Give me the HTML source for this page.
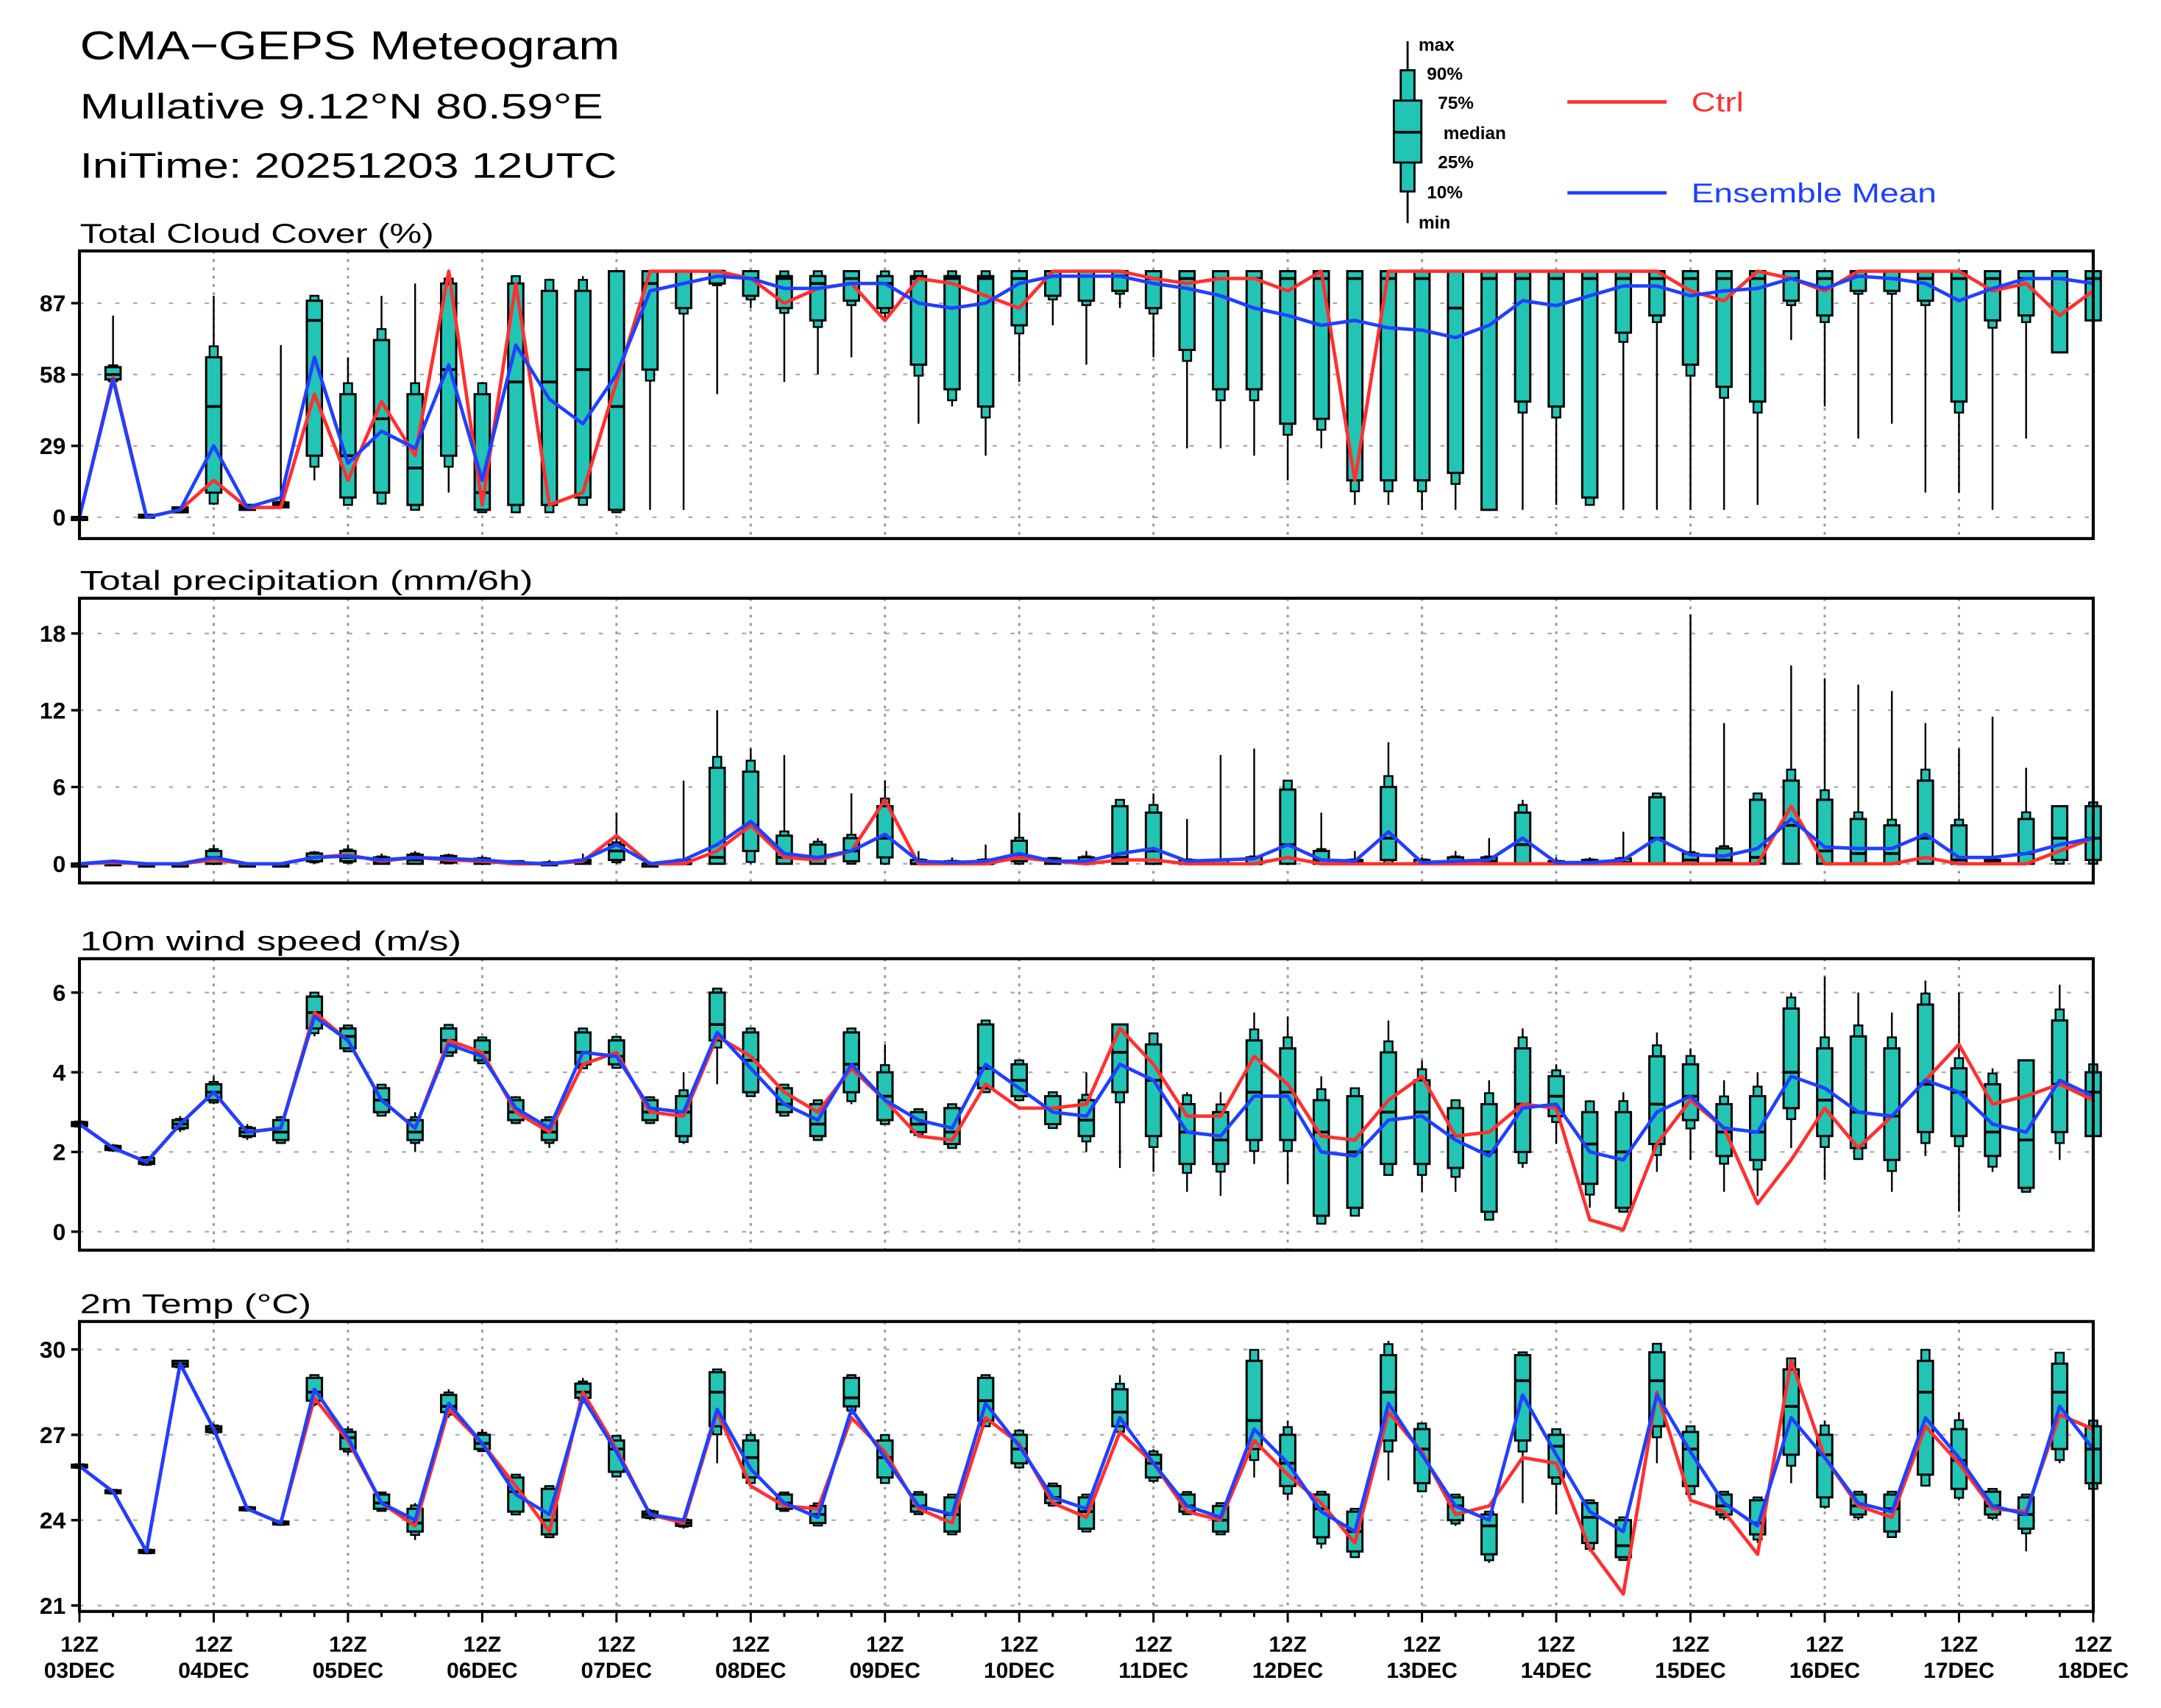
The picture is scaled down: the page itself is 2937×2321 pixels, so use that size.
<!DOCTYPE html>
<html><head><meta charset="utf-8"><style>
html,body{margin:0;padding:0;background:#fff}
svg{display:block}
text{font-family:"Liberation Sans","DejaVu Sans",sans-serif}
</style></head><body>
<svg id="chart" xmlns="http://www.w3.org/2000/svg" width="2937" height="2321" viewBox="0 0 1569 1240" preserveAspectRatio="none">
<rect x="0" y="0" width="1569" height="1240" fill="#fff"/>
<text x="58" y="43" font-size="29" fill="#000" textLength="392" lengthAdjust="spacingAndGlyphs">CMA−GEPS Meteogram</text>
<text x="58" y="86" font-size="26" fill="#000" textLength="380" lengthAdjust="spacingAndGlyphs">Mullative 9.12°N 80.59°E</text>
<text x="58" y="129" font-size="26" fill="#000" textLength="390" lengthAdjust="spacingAndGlyphs">IniTime: 20251203 12UTC</text>
<g>
<line x1="1022" y1="30" x2="1022" y2="162" stroke="#000" stroke-width="1.5"/>
<rect x="1017" y="51" width="10" height="88" fill="#22c4b4" stroke="#000" stroke-width="1.5"/>
<rect x="1012" y="73" width="20" height="45" fill="#22c4b4" stroke="#000" stroke-width="1.5"/>
<line x1="1012" y1="96" x2="1032" y2="96" stroke="#000" stroke-width="2"/>
<g font-size="13" font-weight="bold">
<text x="1030" y="37">max</text><text x="1036" y="58">90%</text><text x="1044" y="79">75%</text>
<text x="1048" y="101">median</text><text x="1044" y="122">25%</text><text x="1036" y="144">10%</text><text x="1030" y="166">min</text></g>
</g>
<g><line x1="1138" y1="74" x2="1210" y2="74" stroke="#ff3030" stroke-width="2.5"/><text x="1228" y="81" font-size="20" fill="#ff3030" textLength="38" lengthAdjust="spacingAndGlyphs">Ctrl</text></g>
<g><line x1="1138" y1="140" x2="1210" y2="140" stroke="#2040ff" stroke-width="2.5"/><text x="1228" y="147" font-size="20" fill="#2040ff" textLength="178" lengthAdjust="spacingAndGlyphs">Ensemble Mean</text></g>
</svg>
<script>
// ---- data (61 steps, 6-hourly from 12Z 03DEC) ----
const dayLabels=["03DEC","04DEC","05DEC","06DEC","07DEC","08DEC","09DEC","10DEC","11DEC","12DEC","13DEC","14DEC","15DEC","16DEC","17DEC","18DEC"];
const tccMin=[0,55,0,2,5,3,4,15,5,5,3,10,2,2,2,5,2,3,3,50,85,55,58,65,80,38,45,25,55,78,62,85,65,28,28,25,15,28,5,5,3,3,3,3,5,5,3,3,3,3,5,72,45,32,38,10,10,3,32,67,80];
const tccQ1=[0,56,0,2,10,3,4,25,8,10,5,25,3,5,5,8,3,60,85,95,90,85,80,88,85,62,52,45,78,90,88,92,85,68,52,52,38,40,15,15,15,18,3,47,45,8,75,82,62,53,47,88,82,92,92,88,47,80,82,67,80];
const tccMed=[0,58,0,3,45,4,5,80,25,40,20,60,10,55,55,60,45,95,100,100,97,97,95,97,95,97,97,97,97,98,98,98,97,97,97,97,97,97,97,97,97,85,97,97,97,97,97,97,97,97,97,97,97,98,97,97,97,97,97,97,97];
const tccQ3=[0,61,1,4,65,5,6,88,50,72,50,95,50,95,92,92,100,100,100,100,100,98,98,100,98,98,98,98,100,100,100,100,100,100,100,100,100,100,100,100,100,100,100,100,100,100,100,100,100,100,100,100,100,100,100,100,100,100,100,100,100];
const tccMax=[0,82,1,4,90,5,70,90,65,90,95,97,55,98,97,98,100,100,100,100,100,100,100,100,100,100,100,100,100,100,100,100,100,100,100,100,100,100,100,100,100,100,100,100,100,100,100,100,100,100,100,100,100,100,100,100,100,100,100,100,100];
const tccCtrl=[0,57,0,3,15,4,4,50,15,47,25,100,5,95,5,10,55,100,100,100,97,87,93,95,80,97,95,90,85,100,100,100,97,95,97,97,92,100,15,100,100,100,100,100,100,100,100,100,92,88,100,97,92,100,100,100,100,92,95,82,92];
const tccMean=[0,56,0,3,29,4,8,65,22,35,28,62,15,70,48,38,58,92,95,98,97,93,93,95,95,87,85,87,95,98,98,98,95,93,90,85,82,78,80,77,76,73,78,88,86,90,94,94,90,92,93,97,93,98,97,95,88,93,97,97,95];

const prMin=new Array(61).fill(0);
const prQ1=[0,0,0,0,0,0,0,0.2,0.2,0,0,0.1,0,0,0,0,0.3,0,0,0,1,0,0,0.2,0.5,0,0,0,0.2,0,0,0,0,0,0,0,0,0,0,0.3,0,0,0,0,0,0,0,0,0,0,0,0,0,0,0,0,0,0,0,0.3,0.3];
const prMed=[0,0,0,0,0.5,0,0,0.5,0.5,0.2,0.3,0.3,0.2,0.1,0,0.1,1,0,0,0.5,3,0.5,0.5,1,2,0,0,0,0.7,0.2,0.1,0.5,1,0,0,0,1.5,0.3,0.1,2,0,0.1,0.2,1.5,0,0,0.1,2,0.3,0.3,0.5,3,1,0.8,0.8,2,0.3,0.2,0.8,2,2];
const prQ3=[0,0.1,0,0,1,0,0,0.8,1,0.5,0.7,0.6,0.4,0.2,0.1,0.3,1.5,0,0.3,7.5,7.2,2.2,1.5,2,4.5,0.3,0.2,0.3,1.8,0.4,0.5,4.5,4,0.3,0.3,0.5,5.8,1,0.3,6,0.3,0.5,0.5,4,0.2,0.3,0.4,5.2,0.8,1.2,5,6.5,5,3.5,3,6.5,3,0.3,3.5,4.5,4.5];
const prMax=[0,0.2,0,0,1.5,0,0,1,1.5,0.8,1,0.8,0.6,0.2,0.3,0.8,4,0.2,6.5,12,9,8.5,2,5.5,6.5,1,0.5,1.5,4,0.5,1,5,5.5,3.5,8.5,9,6.5,4,1,9.5,0.5,1,2,5,0.5,0.5,2.5,5.5,19.5,11,5.5,15.5,14.5,14,13.5,11,9,11.5,7.5,4.5,4.8];
const prCtrl=[0,0.1,0,0,0.3,0,0,0.5,0.7,0.2,0.5,0.3,0.2,0,0,0.2,2.2,0,0,1,3,0.5,0.3,1,5,0,0,0,0.5,0.2,0,0.3,0.3,0,0,0,0.5,0,0,0,0,0,0,0,0,0,0,0,0,0,0,4.5,0,0,0,0.5,0,0,0,1,2];
const prMean=[0,0.2,0,0,0.5,0,0,0.5,0.6,0.3,0.5,0.4,0.3,0.1,0,0.3,1.5,0,0.3,1.5,3.3,0.8,0.5,1,2.3,0.2,0.1,0.2,0.8,0.2,0.2,0.8,1.2,0.2,0.3,0.4,1.5,0.3,0.2,2.5,0.1,0.2,0.3,2,0.1,0.1,0.3,2,0.7,0.6,1.2,3.5,1.3,1.2,1.2,2.3,0.5,0.5,0.8,1.5,2];

const wsMin=[2.6,2,1.65,2.5,3.2,2.3,2.2,4.9,4.5,2.9,2,4.4,4.2,2.7,2.1,4.1,4.1,2.7,2.2,3.7,3.4,2.9,2.3,3.2,2.7,2.4,2.1,3.5,3.3,2.6,2,1.6,1.5,1,0.9,1.7,1.2,0.2,0.4,1.4,1,1,0.3,1.6,2.2,0.6,0.5,1.5,1.8,1,0.9,2.1,1.3,1.8,1,1.9,0.5,1.5,1,1.8,2.4];
const wsQ1=[2.65,2.05,1.7,2.6,3.3,2.4,2.3,5.1,4.6,3,2.3,4.5,4.3,2.8,2.3,4.2,4.2,2.8,2.4,4.8,3.5,3,2.4,3.5,2.8,2.5,2.2,3.6,3.4,2.7,2.4,3.5,2.4,1.7,1.7,2.3,2.3,0.4,0.6,1.7,1.7,1.6,0.5,2,2.9,1.2,0.6,2.2,2.8,1.9,1.8,3.1,2.4,2.1,1.8,2.5,2.4,1.9,1.1,2.5,2.4];
const wsMed=[2.7,2.1,1.75,2.7,3.5,2.5,2.5,5.5,4.9,3.3,2.5,4.8,4.5,3,2.5,4.5,4.4,3,3,5.2,4.3,3.2,2.7,4.2,3.4,2.7,2.5,4.1,3.8,3.1,2.8,4.5,3.8,2.5,2.3,3.5,3.5,2.5,2,3,3,2.4,2,3.2,3.4,2.2,2,3.2,3.4,2.5,2.5,4,3.3,3,2.9,3.7,3.5,2.5,2.3,3.7,3.5];
const wsQ3=[2.75,2.15,1.85,2.8,3.7,2.6,2.8,5.9,5.1,3.6,2.8,5.1,4.8,3.3,2.8,5,4.8,3.3,3.4,6,5,3.6,3.2,5,4,3,3.1,5.2,4.2,3.4,3.3,5.2,4.7,3.2,3,4.8,4.6,3.3,3.4,4.5,3.8,3.1,3.2,4.6,3.9,3,3,4.4,4.2,3.2,3.4,5.6,4.6,4.9,4.6,5.7,4.1,3.7,4.3,5.3,4];
const wsMax=[2.8,2.2,1.9,2.9,3.9,2.7,2.9,6,5.2,3.7,3,5.2,4.9,3.4,2.9,5.1,4.9,3.4,4,6.1,5.1,3.7,3.3,5.1,4.7,3.1,3.2,5.3,4.3,3.5,4,5.2,5,3.5,3.5,5.5,5.4,3.9,3.6,5.3,4.3,3.3,3.8,5.1,4.2,3.3,3.5,5,4.6,3.8,4,6,6.4,6,5.5,6.3,6,4.1,4.3,6.2,4.2];
const wsCtrl=[2.7,2.1,1.75,2.7,3.5,2.5,2.6,5.5,4.8,3.3,2.6,4.8,4.5,3,2.5,4.2,4.5,3,2.9,4.9,4.4,3.5,3,4.1,3.3,2.4,2.3,3.7,3.1,3.1,3.2,5.1,4.2,2.9,2.9,4.4,3.7,2.4,2.3,3.3,3.9,2.4,2.5,3.2,3.1,0.3,0.05,2.2,3.3,2.6,0.7,1.8,3.1,2.1,2.9,3.8,4.7,3.2,3.4,3.7,3.3];
const wsMean=[2.7,2.1,1.75,2.7,3.5,2.5,2.6,5.4,4.8,3.3,2.6,4.7,4.4,3.1,2.6,4.5,4.4,3.1,3,5,4.1,3.2,2.8,4.2,3.3,2.8,2.6,4.2,3.6,3,2.9,4.2,3.8,2.5,2.4,3.4,3.4,2,1.9,2.8,2.9,2.3,1.9,3.1,3.2,2,1.8,3,3.4,2.6,2.5,3.9,3.6,3,2.9,3.8,3.5,2.7,2.5,3.8,3.4];

const tMin=[25.8,24.9,22.8,29.3,27,24.3,23.8,28,26.3,24.3,23.3,27.6,26.4,24.2,23.4,28.1,25.5,24,23.7,26,25.2,24.3,23.8,27.7,25.3,24.2,23.5,27.3,25.8,24.5,23.6,27.1,25.3,24.2,23.5,25.5,24.7,23,22.7,25.4,25,23.8,22.5,24.6,24.2,22.9,22.6,26,24.9,24,23.2,25.3,24.4,24,23.4,25.2,24.7,24,22.9,26,25.1];
const tQ1=[25.85,24.95,22.85,29.4,27.1,24.35,23.85,28.2,26.5,24.4,23.6,27.8,26.5,24.3,23.5,28.3,25.7,24.1,23.8,27.3,25.5,24.4,23.9,28,25.5,24.3,23.6,27.5,26,24.6,23.7,27.3,25.5,24.3,23.6,26.5,25.2,23.4,22.9,26.8,25.3,24,22.8,26.8,25.5,23.2,22.7,27.3,25.2,24.2,23.5,26.3,24.8,24.2,23.6,25.6,25.1,24.2,23.7,26.5,25.3];
const tMed=[25.9,25,22.9,29.5,27.2,24.4,23.9,28.5,26.9,24.6,23.9,28,26.7,25,24,28.5,26.5,24.2,23.9,28.5,26.2,24.6,24.2,28.3,26.2,24.5,24.2,28.2,26.5,24.8,24.3,27.8,26,24.5,24,27.5,26,24.4,23.6,28.5,26.5,24.5,23.8,28.9,26.6,24.1,23.1,28.9,26.5,24.5,23.9,28,26.3,24.5,24.4,28.5,26.1,24.5,24.2,28.5,26.5];
const tQ3=[25.95,25.05,22.95,29.6,27.3,24.45,23.95,29,27.1,24.9,24.4,28.4,27,25.5,25.1,28.8,26.8,24.3,24,29.2,26.8,24.9,24.5,29,26.8,24.9,24.8,29,27,25.2,24.8,28.6,26.3,24.9,24.5,29.6,27,24.9,24.3,29.8,27.2,24.8,24.2,29.8,27,24.6,24,29.9,27.1,24.9,24.7,29.3,27,24.9,24.9,29.6,27.2,25,24.8,29.5,27.3];
const tMax=[26,25.1,23,29.6,27.4,24.5,24,29.1,27.3,25,24.6,28.6,27.2,25.6,25.2,29,27,24.4,24.1,29.3,27.1,25,24.6,29.1,27,25,24.9,29.1,27.2,25.3,24.9,29.1,26.5,25,24.6,30,27.5,25,24.4,30.3,27.4,24.9,24.3,29.9,27.2,24.7,24.1,30.2,27.3,25,24.8,29.7,27.5,25,25,30,27.8,25.1,24.9,29.9,27.5];
const tCtrl=[25.9,25,22.9,29.5,27.2,24.4,23.9,28.3,26.8,24.6,23.8,27.9,26.7,25.2,23.6,28.5,26.5,24.2,23.9,27.8,25.2,24.5,24.4,27.6,26.4,24.4,23.9,27.6,26.7,24.6,24.1,27.1,26,24.3,24,26.8,25.6,24.6,23.2,27.8,26.4,24.2,24.5,26.2,26,23,21.4,28.5,24.7,24.3,22.8,29.6,26.2,24.5,24.1,27.3,26,24.4,24.3,27.7,27.2];
const tMean=[25.9,25,22.9,29.5,27.2,24.4,23.9,28.6,26.9,24.6,24,28.1,26.7,24.9,24.2,28.3,26.4,24.2,24,27.9,25.8,24.6,24.1,27.9,26.2,24.5,24.2,28.1,26.6,24.8,24.4,27.6,26,24.5,24.1,27.2,26,24.3,23.6,28.1,26.3,24.5,24,28.4,26.3,24.3,23.6,28.4,26.4,24.6,23.8,27.6,26.2,24.6,24.3,27.6,26.2,24.5,24.2,28,26.5];

const tccTicks=[0,29,58,87];
const prTicks=[0,6,12,18];
const wsTicks=[0,2,4,6];
const tTicks=[21,24,27,30];

// ---- drawing ----
const NS="http://www.w3.org/2000/svg";
const svg=document.getElementById('chart');
function mk(tag,attrs,parent){const e=document.createElementNS(NS,tag);for(const k in attrs)e.setAttribute(k,attrs[k]);(parent||svg).appendChild(e);return e;}
const X0=57.7,X1=1519.8,NSTEP=60;
function xs(i){return X0+(X1-X0)*i/NSTEP;}

function panel(cfg){
  const g=mk('g',{});
  
  
  const ys=v=>cfg.py0+(v-cfg.v0)*(cfg.py1-cfg.py0)/(cfg.v1-cfg.v0);
  for(let d=1;d<15;d++){const gx=X0+(X1-X0)*d/15;
    const l=mk('line',{x1:gx,y1:cfg.top,x2:gx,y2:cfg.bot,stroke:'#999','stroke-width':1.6,'stroke-dasharray':'2,4'},g);
    
    }
  cfg.ticks.forEach(t=>{const y=ys(t);
    const l=mk('line',{x1:X0,y1:y,x2:X1,y2:y,stroke:'#aaa','stroke-width':1.2,'stroke-dasharray':'3,10'},g);
    
    
    mk('line',{x1:X0-6,y1:y,x2:X0,y2:y,stroke:'#000','stroke-width':1.8},g);
    const tx=mk('text',{x:X0-10,y:y+6,'font-size':17,'font-weight':'bold','text-anchor':'end'},g);
    tx.textContent=t;
    
    });
  const n=Math.min(cfg.md.length,cfg.q1.length,cfg.q3.length,cfg.mn.length,cfg.mx.length);
  for(let i=0;i<n;i++){const x=xs(i);
    const b=mk('g',{},g);
    
    
    const yMin=ys(cfg.mn[i]),yMax=ys(cfg.mx[i]);
    mk('line',{x1:x,y1:yMin,x2:x,y2:yMax,stroke:'#000','stroke-width':1.3},b);
    const ya=ys(cfg.q3[i]),yb=ys(cfg.q1[i]);
    const top=Math.min(ya,yb),h=Math.max(Math.abs(yb-ya),2);
    const ext=Math.min(h*0.15,8);
    const nTop=Math.max(top-ext,Math.min(yMax,top)),nBot=Math.min(top+h+ext,Math.max(yMin,top+h));
    mk('rect',{x:x-3,y:nTop,width:6,height:nBot-nTop,fill:'#22c4b4',stroke:'#000','stroke-width':1.3},b);
    mk('rect',{x:x-5.5,y:top,width:11,height:h,fill:'#22c4b4',stroke:'#000','stroke-width':1.6},b);
    mk('line',{x1:x-5.5,y1:ys(cfg.md[i]),x2:x+5.5,y2:ys(cfg.md[i]),stroke:'#000','stroke-width':2},b);
  }
  const pts=a=>a.map((v,i)=>xs(i).toFixed(1)+','+ys(v).toFixed(1)).join(' ');
  const c=mk('polyline',{points:pts(cfg.ctrl),fill:'none',stroke:'#ff3030','stroke-width':2.5,'stroke-linejoin':'round'},g);
  
  
  const m=mk('polyline',{points:pts(cfg.mean),fill:'none',stroke:'#2040ff','stroke-width':2.5,'stroke-linejoin':'round'},g);
  
  
  const f=mk('rect',{x:X0,y:cfg.top,width:X1-X0,height:cfg.bot-cfg.top,fill:'none',stroke:'#000','stroke-width':2.2},g);
  
  
  const tt=mk('text',{x:58,y:cfg.top-6,'font-size':20,textLength:cfg.tl,lengthAdjust:'spacingAndGlyphs'},g);
  tt.textContent=cfg.title;
  
  
}
panel({name:'cloud-cover-panel',title:'Total Cloud Cover (%)',tl:257,top:182.2,bot:391,py0:375.5,py1:220.1,v0:0,v1:87,ticks:tccTicks,
  mn:tccMin,q1:tccQ1,md:tccMed,q3:tccQ3,mx:tccMax,ctrl:tccCtrl,mean:tccMean});
panel({name:'precipitation-panel',title:'Total precipitation (mm/6h)',tl:329,top:434.3,bot:641,py0:627.1,py1:459.9,v0:0,v1:18,ticks:prTicks,
  mn:prMin,q1:prQ1,md:prMed,q3:prQ3,mx:prMax,ctrl:prCtrl,mean:prMean});
panel({name:'wind-speed-panel',title:'10m wind speed (m/s)',tl:277,top:696,bot:907.6,py0:894.2,py1:720.6,v0:0,v1:6,ticks:wsTicks,
  mn:wsMin,q1:wsQ1,md:wsMed,q3:wsQ3,mx:wsMax,ctrl:wsCtrl,mean:wsMean});
panel({name:'temperature-panel',title:'2m Temp (°C)',tl:168,top:959.4,bot:1169.9,py0:1165.6,py1:979.7,v0:21,v1:30,ticks:tTicks,
  mn:tMin,q1:tQ1,md:tMed,q3:tQ3,mx:tMax,ctrl:tCtrl,mean:tMean});

for(let i=0;i<=NSTEP;i++){const x=xs(i);const big=i%4===0;
  mk('line',{x1:x,y1:1169.9,x2:x,y2:1169.9+(big?8:4),stroke:'#000','stroke-width':1.6});}
dayLabels.forEach((d,k)=>{const x=X0+(X1-X0)*k/15;
  const a=mk('text',{x:x,y:1199,'font-size':16,'font-weight':'bold','text-anchor':'middle'});
  a.textContent='12Z';
  
  
  const b=mk('text',{x:x,y:1218,'font-size':16,'font-weight':'bold','text-anchor':'middle'});
  b.textContent=d;
  
  });
</script>
</body></html>
